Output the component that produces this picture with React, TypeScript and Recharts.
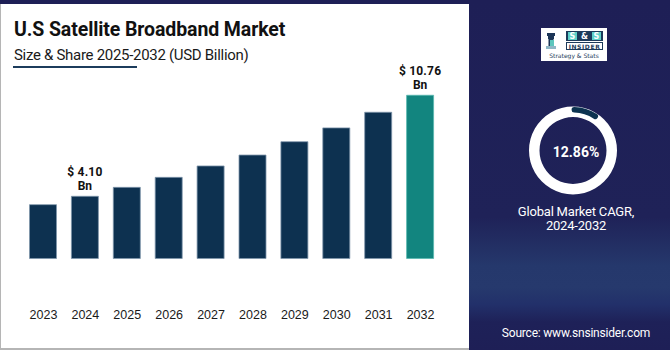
import React from "react";
import { BarChart, Bar, XAxis, YAxis, Cell, LabelList, PieChart, Pie } from "recharts";

const years = ["2023", "2024", "2025", "2026", "2027", "2028", "2029", "2030", "2031", "2032"];
const marketValues = [3.55, 4.1, 4.69, 5.35, 6.1, 6.82, 7.7, 8.61, 9.64, 10.76];
const valueLabels = ["", "$ 4.10", "", "", "", "", "", "", "", "$ 10.76"];
const barColors = ["#0d3150", "#0d3150", "#0d3150", "#0d3150", "#0d3150", "#0d3150", "#0d3150", "#0d3150", "#0d3150", "#12857f"];
const barStrokes = ["#7f95ab", "#7f95ab", "#7f95ab", "#7f95ab", "#7f95ab", "#7f95ab", "#7f95ab", "#7f95ab", "#7f95ab", "#58b8b0"];
const cagrValue = "12.86%";
const cagrLabel = ["Global Market CAGR,", "2024-2032"];
const titleText = "U.S Satellite Broadband Market";
const subtitleText = "Size & Share 2025-2032 (USD Billion)";
const sourceText = "Source: www.snsinsider.com";

const data = years.map((y, i) => ({ year: y, value: marketValues[i], label: valueLabels[i] }));
const ringData = [{ name: "ring", value: 1 }];
const arcData = [{ name: "cagr", value: 1 }];

const ValueLabel = (props: any) => {
  const { x, y, width, value } = props;
  if (!value) return null;
  const cx = x + width / 2;
  return (
    <g>
      <text x={cx} y={y - 20} textAnchor="middle" fontFamily="Roboto" fontWeight={700} fontSize={12} fill="#111" letterSpacing={0.2}>
        {value}
      </text>
      <text x={cx} y={y - 6} textAnchor="middle" fontFamily="Roboto" fontWeight={700} fontSize={12} fill="#111">
        Bn
      </text>
    </g>
  );
};

export default function App() {
  return (
    <div style={{ position: "absolute", left: 0, top: 0, width: 670, height: 350, background: "#fff", overflow: "hidden" }}>
      <div style={{ position: "absolute", left: 0, top: 0, width: 470, height: 4, background: "#1e1f56" }} />
      <div style={{ position: "absolute", left: 0, top: 4, width: 1, height: 345, background: "#b5b5b5" }} />
      <div style={{ position: "absolute", left: 0, top: 348, width: 470, height: 2, background: "#b5b5b5" }} />
      <div
        style={{
          position: "absolute",
          left: 469,
          top: 0,
          width: 201,
          height: 350,
          background:
            "linear-gradient(to bottom, #1e1f56 0%, #1f2258 62%, #25386c 76%, #26396d 82%, #22306a 87%, #1e2158 92%, #1e1f56 100%)",
        }}
      />
      <div style={{ position: "absolute", left: 14, top: 18, fontFamily: "Roboto", fontWeight: 700, fontSize: 19.5, color: "#111", letterSpacing: -0.1, whiteSpace: "nowrap" }}>
        {titleText}
      </div>
      <div style={{ position: "absolute", left: 14, top: 46, fontFamily: "Roboto", fontWeight: 400, fontSize: 15, color: "#1a1a1a", letterSpacing: -0.3, whiteSpace: "nowrap" }}>
        {subtitleText}
      </div>
      <div style={{ position: "absolute", left: 13, top: 66, width: 124, height: 2, background: "#1c3c5c" }} />

      <div style={{ position: "absolute", left: 0, top: 0 }}>
        <BarChart width={470} height={350} data={data} margin={{ top: 81, right: 28.5, bottom: 29, left: 22.5 }} barCategoryGap={0}>
          <YAxis hide domain={[-2.8, 11.7]} type="number" />
          <XAxis
            dataKey="year"
            axisLine={false}
            tickLine={false}
            height={20}
            interval={0}
            tickMargin={3}
            tick={{ fontFamily: "Liberation Sans, Arial", fontSize: 12.5, fill: "#1a1a1a" }}
          />
          <Bar dataKey="value" barSize={27} isAnimationActive={false} strokeWidth={0.8}>
            {data.map((d, i) => (
              <Cell key={d.year} fill={barColors[i]} stroke={barStrokes[i]} />
            ))}
            <LabelList dataKey="label" content={<ValueLabel />} />
          </Bar>
        </BarChart>
      </div>

      <svg style={{ position: "absolute", left: 0, top: 0 }} width={670} height={350}>
        <rect x={541} y={28} width={66} height={33} fill="#ffffff" />
        <rect x={547} y={33} width={8} height={3} fill="#1c3557" />
        <rect x={548} y={36} width={6} height={3} fill="#1c3557" />
        <rect x={548.5} y={39} width={5} height={7} fill="#1c3557" />
        <rect x={550} y={40} width={4} height={7} fill="#5cc6bd" />
        <rect x={546} y={46} width={10} height={3} fill="#8fb7c6" />
        <rect x={566} y={31} width={37} height={10} fill="#1c3a5a" />
        <rect x={568} y={32} width={9} height={8} fill="#5fd0c8" />
        <rect x={592} y={32} width={9} height={8} fill="#5fd0c8" />
        <text x={572.5} y={39} textAnchor="middle" fontFamily="DejaVu Sans" fontWeight={700} fontSize={8} fill="#fff">S</text>
        <text x={584.5} y={39} textAnchor="middle" fontFamily="DejaVu Sans" fontWeight={700} fontSize={8} fill="#fff">&amp;</text>
        <text x={596.5} y={39} textAnchor="middle" fontFamily="DejaVu Sans" fontWeight={700} fontSize={8} fill="#fff">S</text>
        <rect x={566.5} y={42.5} width={36} height={7} fill="#fff" stroke="#1c3a5a" strokeWidth={1} />
        <text x={584.5} y={48.5} textAnchor="middle" fontFamily="DejaVu Sans" fontWeight={700} fontSize={6} fill="#1c3a5a" letterSpacing={0.6}>INSIDER</text>
        <text x={574} y={58} textAnchor="middle" fontFamily="DejaVu Sans" fontSize={6} fill="#1c3a5a">Strategy &amp; Stats</text>
      </svg>

      <div style={{ position: "absolute", left: 470, top: 0 }}>
        <PieChart width={200} height={300} margin={{ top: 0, right: 0, bottom: 0, left: 0 }}>
          <Pie data={ringData} dataKey="value" cx={103} cy={150.5} innerRadius={33.5} outerRadius={44} startAngle={90} endAngle={-270} fill="#ffffff" stroke="none" isAnimationActive={false} />
          <Pie data={arcData} dataKey="value" cx={103} cy={150.5} innerRadius={38} outerRadius={43.5} startAngle={92} endAngle={53} cornerRadius={2.7} fill="#0c3350" stroke="none" isAnimationActive={false} />
        </PieChart>
      </div>
      <div style={{ position: "absolute", left: 526, width: 100, top: 144, textAlign: "center", fontFamily: "Roboto", fontWeight: 700, fontSize: 14, color: "#fff" }}>
        {cagrValue}
      </div>
      <div style={{ position: "absolute", left: 496, width: 160, top: 205, textAlign: "center", fontFamily: "Roboto", fontSize: 13, lineHeight: "14px", color: "#fff", letterSpacing: -0.2 }}>
        <div>{cagrLabel[0]}</div>
        <div>{cagrLabel[1]}</div>
      </div>
      <div style={{ position: "absolute", left: 486, width: 180, top: 326, textAlign: "center", fontFamily: "Roboto", fontSize: 12, color: "#fff", letterSpacing: -0.2 }}>
        {sourceText}
      </div>
    </div>
  );
}
